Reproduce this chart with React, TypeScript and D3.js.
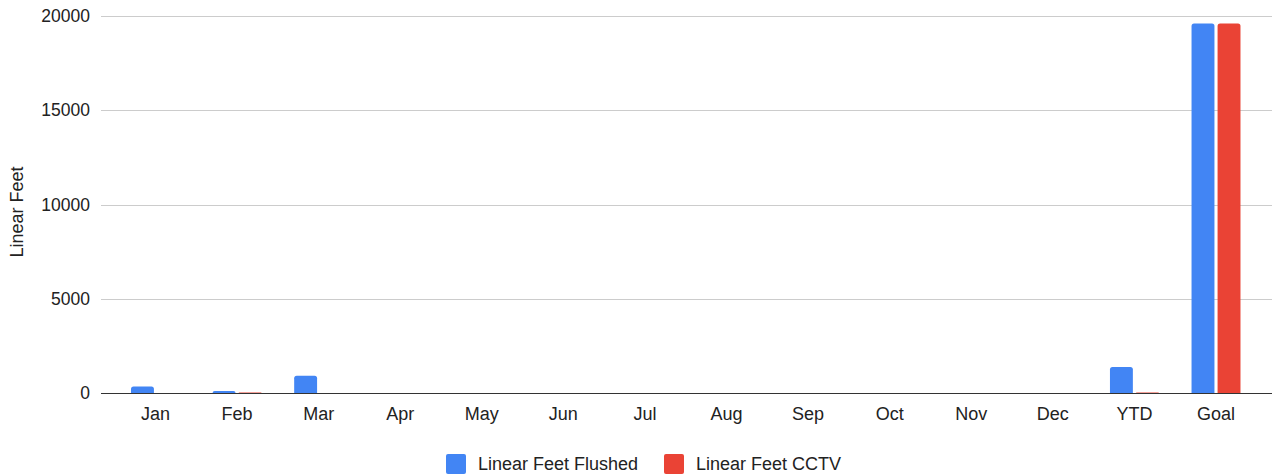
import { useEffect, useRef } from "react";
import * as d3 from "d3";

const categories = ["Jan", "Feb", "Mar", "Apr", "May", "Jun", "Jul", "Aug", "Sep", "Oct", "Nov", "Dec", "YTD", "Goal"];
const flushed = [350, 110, 920, 0, 0, 0, 0, 0, 0, 0, 0, 0, 1380, 19600];
const cctv = [0, 30, 0, 0, 0, 0, 0, 0, 0, 0, 0, 0, 30, 19600];
const seriesNames = ["Linear Feet Flushed", "Linear Feet CCTV"];
const seriesColors = ["#4285F4", "#EA4335"];
const yTicks = [0, 5000, 10000, 15000, 20000];

const W = 1275;
const H = 476;
const FONT = "'Liberation Sans', Arial, sans-serif";

// path for a bar with rounded top corners only
const barPath = (x: number, y: number, w: number, h: number, r: number) => {
  const rr = Math.min(r, h, w / 2);
  return `M${x},${y + h}V${y + rr}Q${x},${y} ${x + rr},${y}H${x + w - rr}Q${x + w},${y} ${x + w},${y + rr}V${y + h}Z`;
};

const App = () => {
  const ref = useRef<SVGSVGElement>(null);

  useEffect(() => {
    if (!ref.current) return;
    const svg = d3.select(ref.current);
    svg.selectAll("*").remove();

    const plotLeft = 101;
    const plotRight = 1272;
    const top = 16;
    const bottom = 393;

    const y = d3.scaleLinear().domain([0, 20000]).range([bottom, top]);
    const x0 = d3
      .scaleBand<string>()
      .domain(categories)
      .range([114.7, 1256.8])
      .paddingInner(0.4)
      .paddingOuter(0.2);
    const x1 = d3
      .scaleBand<number>()
      .domain([0, 1])
      .range([0, x0.bandwidth()])
      .paddingInner(0.12);

    // gridlines
    svg
      .append("g")
      .selectAll("line")
      .data(yTicks.filter((t) => t !== 0))
      .enter()
      .append("line")
      .attr("x1", plotLeft)
      .attr("x2", plotRight)
      .attr("y1", (d) => Math.round(y(d)) + 0.5)
      .attr("y2", (d) => Math.round(y(d)) + 0.5)
      .attr("stroke", "#cccccc")
      .attr("stroke-width", 1);

    // y tick labels
    svg
      .append("g")
      .selectAll("text")
      .data(yTicks)
      .enter()
      .append("text")
      .attr("x", 90)
      .attr("y", (d) => y(d))
      .attr("dy", "0.35em")
      .attr("text-anchor", "end")
      .attr("font-family", FONT)
      .attr("font-size", 17.5)
      .attr("fill", "#222")
      .text((d) => String(d));

    // y title
    svg
      .append("text")
      .attr("transform", `translate(22.5, 212) rotate(-90)`)
      .attr("text-anchor", "middle")
      .attr("font-family", FONT)
      .attr("font-size", 18)
      .attr("fill", "#222")
      .text("Linear Feet");

    // bars
    const data = categories.map((c, i) => ({ cat: c, vals: [flushed[i], cctv[i]] }));
    const groups = svg
      .append("g")
      .selectAll("g")
      .data(data)
      .enter()
      .append("g")
      .attr("transform", (d) => `translate(${x0(d.cat)}, 0)`);

    groups
      .selectAll("path")
      .data((d) => d.vals.map((v, k) => ({ v, k })).filter((e) => e.v > 0))
      .enter()
      .append("path")
      .attr("d", (e) => barPath(x1(e.k)!, y(e.v), x1.bandwidth(), bottom - y(e.v), 2.5))
      .attr("fill", (e) => seriesColors[e.k]);

    // baseline
    svg
      .append("line")
      .attr("x1", plotLeft)
      .attr("x2", plotRight)
      .attr("y1", bottom + 0.5)
      .attr("y2", bottom + 0.5)
      .attr("stroke", "#333")
      .attr("stroke-width", 1);

    // x labels
    svg
      .append("g")
      .selectAll("text")
      .data(categories)
      .enter()
      .append("text")
      .attr("x", (d) => x0(d)! + x0.bandwidth() / 2)
      .attr("y", 420)
      .attr("text-anchor", "middle")
      .attr("font-family", FONT)
      .attr("font-size", 18)
      .attr("fill", "#222")
      .text((d) => d);

    // legend
    const legendX = [446, 664];
    const legend = svg
      .append("g")
      .selectAll("g")
      .data(seriesNames)
      .enter()
      .append("g")
      .attr("transform", (_d, i) => `translate(${legendX[i]}, 454)`);

    legend
      .append("rect")
      .attr("width", 20)
      .attr("height", 20)
      .attr("rx", 2)
      .attr("fill", (_d, i) => seriesColors[i]);

    legend
      .append("text")
      .attr("x", 32)
      .attr("y", 10)
      .attr("dy", "0.35em")
      .attr("font-family", FONT)
      .attr("font-size", 18)
      .attr("fill", "#222")
      .text((d) => d);
  }, []);

  return (
    <svg
      ref={ref}
      width={W}
      height={H}
      style={{ position: "absolute", left: 0, top: 0, background: "#fff" }}
    ></svg>
  );
};

export default App;
